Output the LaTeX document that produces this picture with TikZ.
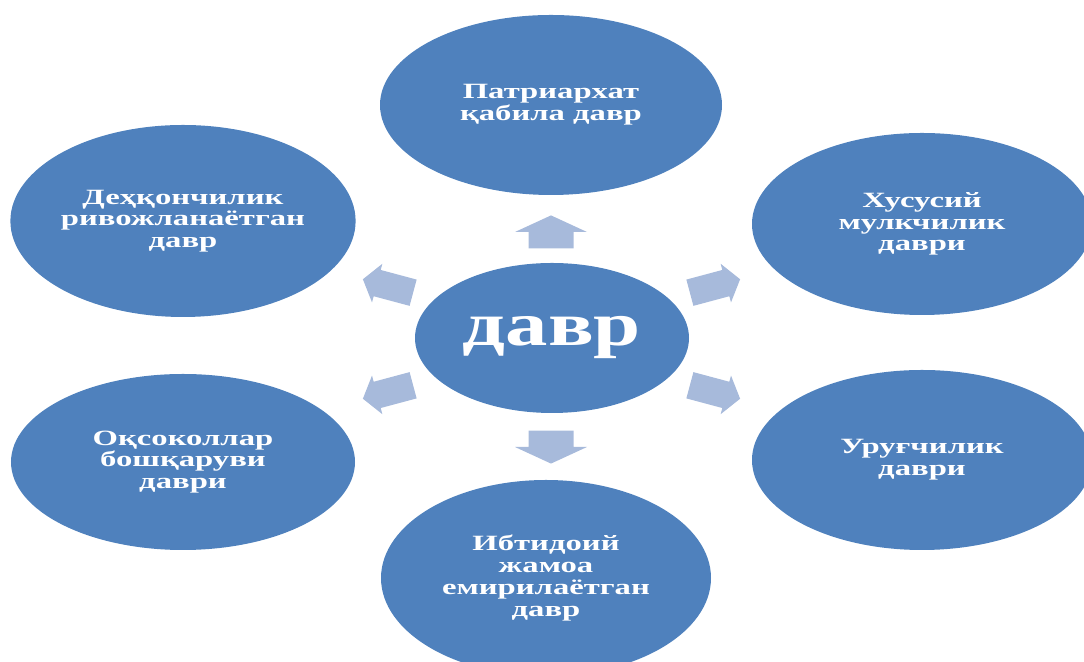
\documentclass[tikz,border=0pt]{standalone}
\usepackage{fontspec}
\newfontfamily\periodfont[FakeStretch=1.5]{Liberation Serif}
\newfontfamily\hubfont[FakeStretch=1.37]{Liberation Serif}
\definecolor{periodblue}{RGB}{79,129,189}
\definecolor{arrowblue}{RGB}{167,186,219}
\usetikzlibrary{
  shapes.geometric
}

\begin{document}
\begin{tikzpicture}[
  period/.style={ellipse, fill=periodblue, inner sep=0pt, text=white, align=center, font={\periodfont\bfseries\fontsize{15.5}{15.5}\selectfont}},
  hub/.style={ellipse, fill=periodblue, inner sep=0pt, minimum width=6.85cm, minimum height=3.75cm, text=white, font={\hubfont\bfseries\fontsize{44}{44}\selectfont}},
  blockarr/.style={fill=arrowblue}
]
  \useasboundingbox (0,0) rectangle (27.1,16.55);
  \clip (0,0) rectangle (27.1,16.225);

  \node[hub] (hub) at (13.8,8.1) {давр};
  \node[period, minimum width=8.55cm, minimum height=4.5cm] (patr) at (13.775,13.925) {Патриархат\\қабила давр};
  \node[period, minimum width=8.6cm, minimum height=4.8cm] (dehq) at (4.575,11.025) {Деҳқончилик\\ривожланаётган\\давр};
  \node[period, minimum width=8.5cm, minimum height=4.55cm] (xusus) at (23.05,10.95) {Хусусий\\мулкчилик\\даври};
  \node[period, minimum width=8.6cm, minimum height=4.4cm] (oqsoq) at (4.575,5.0) {Оқсоколлар\\бошқаруви\\даври};
  \node[period, minimum width=8.5cm, minimum height=4.5cm] (urug) at (23.05,5.05) {Уруғчилик\\даври};
  \node[period, minimum width=8.25cm, minimum height=4.9cm] (ibtid) at (13.65,2.1) {Ибтидоий\\жамоа\\емирилаётган\\давр};

  % up and down block arrows
  \foreach \x/\y/\a in {13.775/10.75/90, 13.775/5.375/-90}
    \fill[blockarr, shift={(\x,\y)}, rotate=\a]
      (-0.41,-0.5625) -- (0,-0.5625) -- (0,-0.9) -- (0.415,0) -- (0,0.9) -- (0,0.5625) -- (-0.41,0.5625) -- cycle;
  % slanted block arrows
  \foreach \x/\y/\a in {9.7/9.4/165, 9.7/6.75/195, 17.875/9.4/15, 17.875/6.75/-15}
    \fill[blockarr, shift={(\x,\y)}, rotate=\a]
      (-0.65,-0.34) -- (0.28,-0.34) -- (0.28,-0.5) -- (0.65,0) -- (0.28,0.5) -- (0.28,0.34) -- (-0.65,0.34) -- cycle;
\end{tikzpicture}
\end{document}
